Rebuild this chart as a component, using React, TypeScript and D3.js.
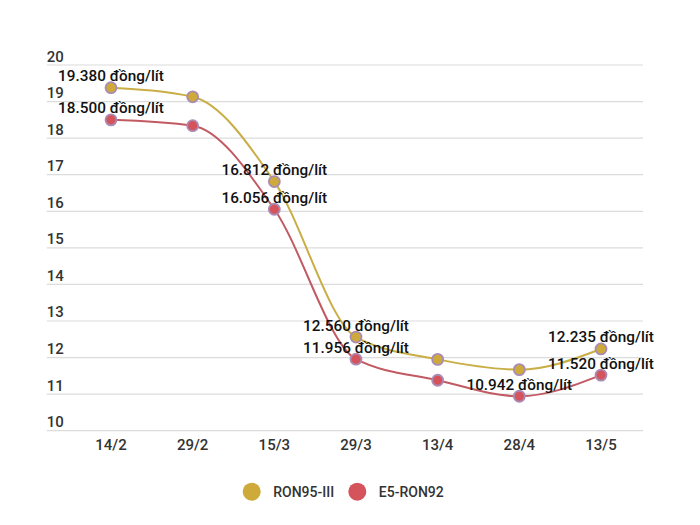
import React from "react";
import * as d3 from "d3";

const categories = ["14/2", "29/2", "15/3", "29/3", "13/4", "28/4", "13/5"];
const ron95 = [19.38, 19.13, 16.812, 12.56, 11.95, 11.67, 12.235];
const e5 = [18.5, 18.34, 16.056, 11.956, 11.38, 10.942, 11.52];
const ron95Labeled = [0, 2, 3, 6];
const e5Labeled = [0, 2, 3, 5, 6];
const yTicks = [10, 11, 12, 13, 14, 15, 16, 17, 18, 19, 20];
const seriesNames = ["RON95-III", "E5-RON92"];

const W = 700;
const H = 525;
const FONT = "Roboto, 'Noto Sans', sans-serif";

export default function App() {
  const x = d3.scalePoint<string>().domain(categories).range([111, 601]);
  const y = d3.scaleLinear().domain([10, 20]).range([430.7, 65]);
  const gridX0 = 46.7;
  const gridX1 = 643;

  const line = d3
    .line<number>()
    .x((_, i) => x(categories[i]) as number)
    .y((d) => y(d))
    .curve(d3.curveMonotoneX);

  const series = [
    { name: seriesNames[0], data: ron95, labeled: ron95Labeled, line: "#c9ad45", fill: "#cdaa3a" },
    { name: seriesNames[1], data: e5, labeled: e5Labeled, line: "#c25a63", fill: "#d5545c" },
  ];

  const fmt = (v: number) => v.toFixed(3) + " đồng/lít";

  return (
    <svg
      width={W}
      height={H}
      style={{ position: "absolute", left: 0, top: 0, background: "#fff" }}
      fontFamily={FONT}
    >
      <rect width={W} height={H} fill="#fff" />
      {yTicks.map((t) => (
        <g key={t}>
          <line x1={gridX0} x2={gridX1} y1={y(t)} y2={y(t)} stroke="#dcdcdc" strokeWidth={1.2} />
          <text x={gridX0} y={y(t) - 3.5} fontSize={15} fontWeight={500} fill="#333">
            {t}
          </text>
        </g>
      ))}
      {categories.map((c) => (
        <text key={c} x={x(c)} y={450} textAnchor="middle" fontSize={15} fontWeight={500} fill="#333">
          {c}
        </text>
      ))}
      {series.map((s) => (
        <path key={s.name} d={line(s.data) || ""} fill="none" stroke={s.line} strokeWidth={2} />
      ))}
      {series.map((s) =>
        s.data.map((v, i) => (
          <circle
            key={s.name + i}
            cx={x(categories[i])}
            cy={y(v)}
            r={5.5}
            fill={s.fill}
            stroke="#a98bb5"
            strokeWidth={1.8}
          />
        ))
      )}
      {series.map((s) =>
        s.labeled.map((i) => (
          <text
            key={"l" + s.name + i}
            x={x(categories[i])}
            y={y(s.data[i]) - 6.5}
            textAnchor="middle"
            fontSize={15.3}
            fontWeight={500}
            fill="#111"
          >
            {fmt(s.data[i])}
          </text>
        ))
      )}
      {series.map((s, k) => {
        const cx = k === 0 ? 251.7 : 357.3;
        return (
          <g key={"lg" + s.name}>
            <circle cx={cx} cy={491.7} r={9} fill={s.fill} />
            <text x={cx + 21.5} y={497} fontSize={14} fontWeight={500} fill="#333">
              {s.name}
            </text>
          </g>
        );
      })}
    </svg>
  );
}
